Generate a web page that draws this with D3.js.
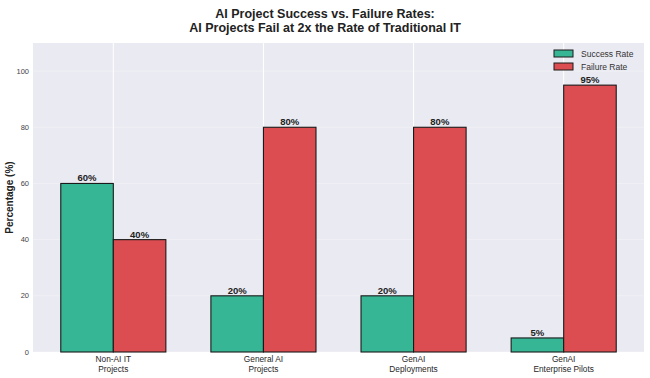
<!DOCTYPE html>
<html>
<head>
<meta charset="utf-8">
<script src="https://cdn.jsdelivr.net/npm/d3@7"></script>
<style>
  body { margin: 0; background: #fff; }
  text { font-family: "Liberation Sans", Arial, sans-serif; }
</style>
</head>
<body>
<div id="chart"></div>
<script>
// AI project success vs failure rates
var categories = [["Non-AI IT", "Projects"], ["General AI", "Projects"], ["GenAI", "Deployments"], ["GenAI", "Enterprise Pilots"]];
var successRate = [60, 20, 20, 5];
var failureRate = [40, 80, 80, 95];
var seriesNames = ["Success Rate", "Failure Rate"];
var yTicks = [0, 20, 40, 60, 80, 100];

var colors = ["#36b694", "#db4d50"];

var width = 650, height = 378;
var margin = { top: 43, right: 6, bottom: 26, left: 33 };
var plot_w = width - margin.left - margin.right,
    plot_h = height - margin.top - margin.bottom;

var svg = d3.select("#chart").append("svg")
    .attr("width", width)
    .attr("height", height);

// title
svg.append("text")
    .attr("x", 325).attr("y", 18)
    .attr("text-anchor", "middle")
    .attr("font-size", "12.5px").attr("font-weight", "bold").attr("fill", "#222")
    .text("AI Project Success vs. Failure Rates:");
svg.append("text")
    .attr("x", 325).attr("y", 32)
    .attr("text-anchor", "middle")
    .attr("font-size", "12.5px").attr("font-weight", "bold").attr("fill", "#222")
    .text("AI Projects Fail at 2x the Rate of Traditional IT");

var g = svg.append("g").attr("transform", "translate(" + margin.left + "," + margin.top + ")");

g.append("rect")
    .attr("width", plot_w).attr("height", plot_h)
    .attr("fill", "#eaeaf2");

// matplotlib-style positions 0..n-1, bar width 0.35
var barW = 0.35;
var x = d3.scaleLinear()
    .domain([-0.535, categories.length - 1 + 0.535])
    .range([0, plot_w]);
var y = d3.scaleLinear().domain([0, 110]).range([plot_h, 0]);

// grid
g.selectAll(".hgrid").data(yTicks).enter().append("line")
    .attr("x1", 0).attr("x2", plot_w)
    .attr("y1", function (d) { return y(d); }).attr("y2", function (d) { return y(d); })
    .attr("stroke", "#ffffff").attr("stroke-opacity", 0.35).attr("stroke-width", 0.8);
g.selectAll(".vgrid").data(categories).enter().append("line")
    .attr("x1", function (d, i) { return x(i); }).attr("x2", function (d, i) { return x(i); })
    .attr("y1", 0).attr("y2", plot_h)
    .attr("stroke", "#ffffff").attr("stroke-width", 1);

var series = [successRate, failureRate];
series.forEach(function (vals, s) {
    var off = s === 0 ? -barW / 2 : barW / 2;
    g.selectAll(".bar" + s).data(vals).enter().append("rect")
        .attr("x", function (d, i) { return x(i + off - barW / 2); })
        .attr("width", x(barW) - x(0))
        .attr("y", function (d) { return y(d); })
        .attr("height", function (d) { return plot_h - y(d); })
        .attr("fill", colors[s])
        .attr("stroke", "#1a1a1a").attr("stroke-width", 1.1);
    g.selectAll(".lab" + s).data(vals).enter().append("text")
        .attr("x", function (d, i) { return x(i + off); })
        .attr("y", function (d) { return y(d) - 2; })
        .attr("text-anchor", "middle")
        .attr("font-size", "9.5px").attr("font-weight", "bold").attr("fill", "#222")
        .text(function (d) { return d + "%"; });
});

// y ticks
g.selectAll(".ytick").data(yTicks).enter().append("text")
    .attr("x", -4).attr("y", function (d) { return y(d); })
    .attr("dy", "0.35em")
    .attr("text-anchor", "end")
    .attr("font-size", "7.5px").attr("fill", "#444")
    .text(function (d) { return d; });

// x ticks
var xt = g.selectAll(".xtick").data(categories).enter().append("text")
    .attr("x", function (d, i) { return x(i); })
    .attr("y", plot_h + 10)
    .attr("text-anchor", "middle")
    .attr("font-size", "8.3px").attr("fill", "#262626");
xt.append("tspan").attr("x", function (d, i) { return x(i); }).text(function (d) { return d[0]; });
xt.append("tspan").attr("x", function (d, i) { return x(i); }).attr("dy", "1.15em").text(function (d) { return d[1]; });

// y label
svg.append("text")
    .attr("transform", "translate(13," + (margin.top + plot_h / 2) + ") rotate(-90)")
    .attr("text-anchor", "middle")
    .attr("font-size", "10px").attr("font-weight", "bold").attr("fill", "#222")
    .text("Percentage (%)");

// legend
var legend = g.selectAll(".legend").data(seriesNames).enter().append("g")
    .attr("transform", function (d, i) { return "translate(" + (plot_w - 90) + "," + (7 + i * 13) + ")"; });
legend.append("rect")
    .attr("width", 19).attr("height", 7)
    .attr("fill", function (d, i) { return colors[i]; })
    .attr("stroke", "#1a1a1a").attr("stroke-width", 1);
legend.append("text")
    .attr("x", 27).attr("y", 4).attr("dy", "0.35em")
    .attr("font-size", "8.5px").attr("fill", "#333")
    .text(function (d) { return d; });
</script>
</body>
</html>
